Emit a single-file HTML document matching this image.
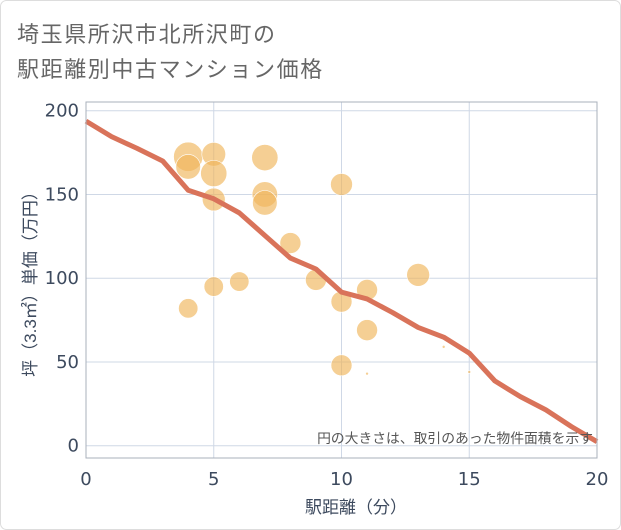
<!DOCTYPE html>
<html><head><meta charset="utf-8"><style>
body{margin:0;background:#fff;}
#wrap{position:relative;width:621px;height:530px;overflow:hidden;font-family:"Liberation Sans","Noto Sans CJK JP",sans-serif;}
</style></head><body>
<div id="wrap">
<svg id="chart" width="621" height="530" xmlns="http://www.w3.org/2000/svg">
<rect x="0.5" y="0.5" width="620" height="529" rx="6" fill="#fff" stroke="#ddd"/>
<text x="17" y="42" font-size="22" fill="#666" letter-spacing="1.6" font-family="Liberation Sans, Noto Sans CJK JP, sans-serif">埼玉県所沢市北所沢町の</text>
<text x="17" y="77" font-size="22" fill="#666" letter-spacing="1.6" font-family="Liberation Sans, Noto Sans CJK JP, sans-serif">駅距離別中古マンション価格</text>
<g id="grid"></g>
<g id="bubbles"></g>
<g id="line"></g>
<g id="axes"></g>
<text x="593" y="443" font-size="13.8" fill="#555" text-anchor="end" font-family="Liberation Sans, Noto Sans CJK JP, sans-serif">円の大きさは、取引のあった物件面積を示す</text>
<text x="356" y="513" font-size="17" fill="#3d4a5e" text-anchor="middle" font-family="Liberation Sans, Noto Sans CJK JP, sans-serif">駅距離（分）</text>
<text transform="translate(36,280) rotate(-90)" font-size="17" fill="#3d4a5e" text-anchor="middle" font-family="Liberation Sans, Noto Sans CJK JP, sans-serif">坪（3.3㎡）単価（万円）</text>
</svg>
</div>
<script>
const xTicks=[0,5,10,15,20];
const yTicks=[0,50,100,150,200];
const lineX=[0,1,2,3,4,5,6,7,8,9,10,11,12,13,14,15,16,17,18,19,20];
const lineY=[193.8,184.5,177.5,170,152.5,147.4,139,125.5,112,105.5,91.7,87.6,79.5,70.6,64.8,55.3,38.7,29.3,21.4,11.4,2.4];
const bubX=[4,4,5,5,5,7,7,7,10,8,4,5,6,9,10,11,13,11,10,11,14,15];
const bubY=[172.5,166.5,174,162.5,147,172,150,145,156,121,82,95,98,99,86,93,102,69,48,43,59,44];
const bubSize=[200,140,130,160,120,160,150,140,110,100,85,85,85,100,100,100,120,100,100,1,1,1];
const NS='http://www.w3.org/2000/svg';
const X0=86,X1=597,Y0=445.7,Y1=110.7,TOP=102,BOT=458;
const sx=v=>X0+(X1-X0)*v/20;
const sy=v=>Y0-(Y0-Y1)*v/200;
function mk(tag,attrs,parent){const e=document.createElementNS(NS,tag);for(const k in attrs)e.setAttribute(k,attrs[k]);parent.appendChild(e);return e;}
const grid=document.getElementById('grid'),axes=document.getElementById('axes');
xTicks.forEach(t=>{
 const l=mk('line',{x1:sx(t),x2:sx(t),y1:TOP,y2:BOT,stroke:'#cfd8e6','stroke-width':1},grid);
 
 
 const tx=mk('text',{x:sx(t),y:485,'font-size':18,fill:'#3d4a5e','text-anchor':'middle','font-family':'DejaVu Sans, sans-serif'},axes);
 tx.textContent=t;
 
 
});
yTicks.forEach(t=>{
 const l=mk('line',{x1:X0,x2:X1,y1:sy(t),y2:sy(t),stroke:'#cfd8e6','stroke-width':1},grid);
 
 
 const tx=mk('text',{x:79,y:sy(t)+6,'font-size':18,fill:'#3d4a5e','text-anchor':'end','font-family':'DejaVu Sans, sans-serif'},axes);
 tx.textContent=t;
 
 
});
const fr=mk('rect',{x:X0,y:TOP,width:X1-X0,height:BOT-TOP,fill:'none',stroke:'#aab0bb','stroke-width':1},axes);


const bg=document.getElementById('bubbles');
bubX.forEach((x,i)=>{
 const r=Math.sqrt(bubSize[i])*1.0+0.5;
 const c=mk('circle',{cx:sx(x),cy:sy(bubY[i]),r:r,fill:'#f0b55a','fill-opacity':0.65,stroke:'#fff','stroke-width':0.6},bg);
 
 
});
const pts=lineX.map((x,i)=>sx(x)+','+sy(lineY[i])).join(' ');
const pl=mk('polyline',{points:pts,fill:'none',stroke:'#d9735a','stroke-width':5,'stroke-linejoin':'round'},document.getElementById('line'));


</script>
</body></html>
